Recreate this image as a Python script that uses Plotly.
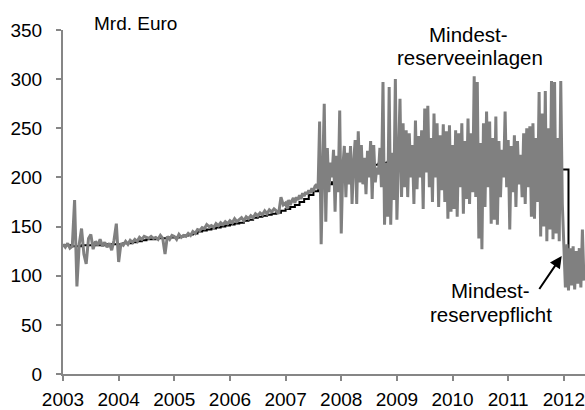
import plotly.graph_objects as go

# ---- Mindestreservepflicht (monthly, Mrd. Euro) ----
req_years = [2003, 2004, 2005, 2006, 2007, 2008, 2009, 2010, 2011, 2012]
req_2003 = [131, 131, 130, 130, 131, 131, 131, 131, 131, 132, 132, 132]
req_2004 = [132, 133, 133, 134, 135, 136, 137, 137, 138, 138, 138, 139]
req_2005 = [139, 140, 141, 142, 143, 145, 146, 147, 148, 149, 150, 151]
req_2006 = [152, 153, 154, 156, 157, 159, 160, 161, 162, 163, 164, 166]
req_2007 = [168, 170, 172, 175, 178, 182, 186, 189, 191, 193, 195, 197]
req_2008 = [198, 200, 203, 205, 207, 209, 211, 213, 214, 215, 216, 217]
req_2009 = [218, 219, 220, 221, 221, 220, 219, 218, 217, 216, 215, 214]
req_2010 = [213, 213, 213, 212, 212, 212, 212, 212, 211, 211, 211, 211]
req_2011 = [211, 210, 210, 210, 210, 209, 209, 209, 209, 208, 208, 208]
req_2012 = [208, 104, 103, 103, 103, 103]

# ---- Mindestreserveeinlagen (Mrd. Euro) ----
dep_years = [2003, 2004, 2005, 2006, 2007, 2008, 2009, 2010, 2011, 2012]
dep_per_year = [24, 24, 24, 24, 36, 36, 36, 36, 36, 36]
dep_2003 = [132, 129, 133, 128, 130, 177, 89, 132, 148, 122, 112, 138,
            142, 127, 135, 131, 137, 130, 134, 129, 133, 126, 136, 153]
dep_2004 = [114, 133, 131, 135, 132, 136, 134, 137, 135, 139, 137, 140,
            139, 138, 140, 138, 139, 137, 141, 138, 122, 140, 137, 141]
dep_2005 = [140, 137, 142, 139, 141, 140, 143, 141, 145, 143, 147, 146,
            149, 148, 152, 150, 151, 149, 153, 151, 154, 152, 155, 153]
dep_2006 = [156, 154, 158, 155, 157, 159, 156, 160, 158, 161, 159, 163,
            161, 164, 162, 166, 163, 167, 165, 168, 166, 163, 180, 172]
dep_2007 = [174, 168, 177, 172, 176, 179, 174, 180, 177, 182, 178, 184,
            181, 185, 183, 187, 184, 189, 186, 191, 193, 188, 257, 132,
            205, 275, 155, 230, 185, 215, 200, 228, 165, 222, 185, 268]
dep_2008 = [143, 210, 232, 180, 225, 193, 232, 173, 215, 238, 173, 247,
            195, 233, 193, 220, 183, 227, 200, 237, 178, 233, 195, 210,
            203, 230, 190, 297, 152, 215, 160, 292, 152, 225, 177, 300]
dep_2009 = [157, 230, 280, 180, 255, 190, 248, 180, 245, 200, 233, 173,
            258, 188, 242, 200, 248, 168, 270, 205, 273, 190, 240, 175,
            265, 200, 255, 170, 243, 187, 254, 175, 247, 158, 253, 165]
dep_2010 = [233, 168, 248, 160, 245, 190, 255, 163, 237, 178, 260, 173,
            245, 185, 303, 180, 297, 138, 235, 127, 255, 170, 267, 190,
            257, 153, 240, 157, 262, 152, 237, 180, 228, 200, 267, 190]
dep_2011 = [238, 147, 232, 185, 243, 170, 237, 193, 223, 180, 245, 173,
            250, 190, 252, 160, 255, 158, 240, 175, 287, 140, 265, 150,
            288, 135, 250, 147, 298, 137, 297, 143, 240, 135, 298, 173]
dep_2012 = [130, 88, 132, 85, 128, 90, 130, 86, 125, 92, 128, 88, 147, 95]

y_ticks = [0, 50, 100, 150, 200, 250, 300, 350]
x_ticks = [2003, 2004, 2005, 2006, 2007, 2008, 2009, 2010, 2011, 2012]
x_labels = [str(v) for v in x_ticks]

req_lists = [req_2003, req_2004, req_2005, req_2006, req_2007,
             req_2008, req_2009, req_2010, req_2011, req_2012]
dep_lists = [dep_2003, dep_2004, dep_2005, dep_2006, dep_2007,
             dep_2008, dep_2009, dep_2010, dep_2011, dep_2012]

req_x, req_y = [], []
for yr, vals in zip(req_years, req_lists):
    for i, v in enumerate(vals):
        req_x.append(yr + i / 12)
        req_y.append(v)

dep_x, dep_y = [], []
for yr, n, vals in zip(dep_years, dep_per_year, dep_lists):
    for i, v in enumerate(vals):
        dep_x.append(yr + i / n)
        dep_y.append(v)

FONT = "Liberation Sans, Arial, sans-serif"
AXIS = "#868686"

fig = go.Figure()
fig.add_trace(go.Scatter(x=req_x, y=req_y, mode="lines", line_shape="hv",
                         line=dict(color="#000000", width=2),
                         name="Mindestreservepflicht", hoverinfo="skip"))
fig.add_trace(go.Scatter(x=dep_x, y=dep_y, mode="lines",
                         line=dict(color="#808080", width=3),
                         name="Mindestreserveeinlagen", hoverinfo="skip"))

fig.update_layout(
    width=585, height=410,
    margin=dict(l=63, r=0, t=30, b=30),
    paper_bgcolor="white", plot_bgcolor="white",
    showlegend=False,
    font=dict(family=FONT, size=19, color="#000000"),
    xaxis=dict(range=[2003, 2012.38], tickmode="array", tickvals=x_ticks,
               ticktext=x_labels, showgrid=False, zeroline=False,
               showline=True, linecolor=AXIS, linewidth=2,
               ticks="outside", ticklen=5, tickwidth=2, tickcolor=AXIS,
               tickfont=dict(size=19), ticklabelstandoff=2),
    yaxis=dict(range=[0, 350], tickmode="array", tickvals=y_ticks,
               showgrid=False, zeroline=False,
               showline=True, linecolor=AXIS, linewidth=2,
               ticks="outside", ticklen=5, tickwidth=2, tickcolor=AXIS,
               tickfont=dict(size=19), ticklabelstandoff=10),
)

fig.add_annotation(x=2003.52, y=1.02, xref="x", yref="paper", text="Mrd. Euro",
                   showarrow=False, xanchor="left", yanchor="middle",
                   font=dict(size=19))
for txt, xv, yv in [("Mindest-", 2010.28, 345), ("reserveeinlagen", 2010.31, 322.5),
                    ("Mindest-", 2010.687, 84.5), ("reservepflicht", 2010.687, 60.5)]:
    fig.add_annotation(x=xv, y=yv, xref="x", yref="y", text=txt,
                       showarrow=False, xanchor="center", yanchor="middle",
                       font=dict(size=20.5))
fig.add_annotation(x=2011.961, y=120, xref="x", yref="y",
                   ax=2011.541, ay=85, axref="x", ayref="y", text="",
                   showarrow=True, arrowhead=2, arrowsize=1.2, arrowwidth=2,
                   arrowcolor="#000000")

fig.write_html("out.html", config={"displayModeBar": False},
               post_script="document.body.style.margin='0';")
